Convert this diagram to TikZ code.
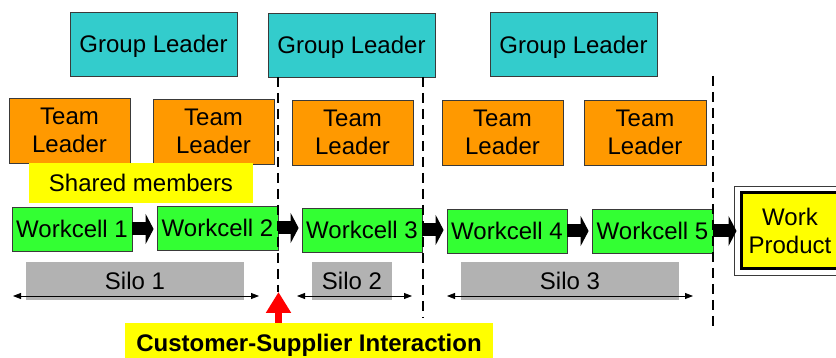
\documentclass[tikz,border=0pt]{standalone}
\usepackage{fontspec}
\setmainfont{Liberation Sans}
\usetikzlibrary{arrows.meta}
\definecolor{glcyan}{HTML}{33CCCC}
\definecolor{tlorange}{HTML}{FF9900}
\definecolor{wcgreen}{HTML}{33FF33}
\definecolor{hiyellow}{HTML}{FFFF00}
\definecolor{silogray}{HTML}{B2B2B2}
\definecolor{boxline}{HTML}{3A3A3A}
\begin{document}
\begin{tikzpicture}[x=1pt,y=-1pt,
  txt/.style={inner sep=0pt, font=\fontsize{24}{28}\selectfont, align=center},
  oneline/.style={text height=17.2pt, text depth=0pt},
  box/.style={txt, draw=boxline, line width=0.8pt},
  grouplead/.style={box, oneline, fill=glcyan, minimum width=167pt, minimum height=64pt},
  teamlead/.style={box, fill=tlorange, minimum width=121pt, minimum height=65pt, text depth=1.5pt},
  workcell/.style={box, oneline, fill=wcgreen, minimum width=120pt, minimum height=44pt},
  silo/.style={txt, oneline, fill=silogray, minimum height=38pt},
  flow/.style={line width=13pt, -{Triangle[length=8pt,width=30pt]}, shorten >=3pt},
  span/.style={line width=0.8pt, {Triangle[length=8pt,width=6pt]}-{Triangle[length=8pt,width=6pt]}},
  cut/.style={line width=2.6pt, dash pattern=on 10pt off 6pt}
]
\clip (0,0) rectangle (836,358);

% group leaders
\node[grouplead] (gl1) at (153.5,44) {Group Leader};
\node[grouplead] (gl2) at (351.5,45) {Group Leader};
\node[grouplead] (gl3) at (573.5,44.5) {Group Leader};

% team leaders
\node[teamlead] (tl1) at (69.5,130.5) {Team\\Leader};
\node[teamlead] (tl2) at (213.5,131.5) {Team\\Leader};
\node[teamlead] (tl3) at (352.5,132.5) {Team\\Leader};
\node[teamlead] (tl4) at (502.5,132.5) {Team\\Leader};
\node[teamlead, minimum width=122pt] (tl5) at (645,132.5) {Team\\Leader};

% shared members band
\node[txt, oneline, fill=hiyellow, minimum width=224pt, minimum height=40pt] (shared) at (141,183) {Shared members};

% workcells
\node[workcell] (wc1) at (72,229) {Workcell 1};
\node[workcell, minimum width=121pt] (wc2) at (217.5,228) {Workcell 2};
\node[workcell] (wc3) at (362,230) {Workcell 3};
\node[workcell] (wc4) at (507,231) {Workcell 4};
\node[workcell, minimum width=121pt] (wc5) at (652.5,231) {Workcell 5};

% work product (double frame)
\node[txt, fill=hiyellow, draw=black, line width=3pt, minimum width=98pt, minimum height=76pt, text depth=1pt] (wp) at (790,231) {Work\\Product};
\draw[boxline, line width=0.8pt] ([shift={(-5pt,5pt)}]wp.north west) rectangle ([shift={(5pt,-5pt)}]wp.south east);

% flow arrows
\draw[flow] (wc1.east) -- (wc1.east -| wc2.west);
\draw[flow] (wc2.east) -- (wc2.east -| wc3.west);
\draw[flow] (wc3.east) -- (wc3.east -| wc4.west);
\draw[flow] (wc4.east) -- (wc4.east -| wc5.west);
\draw[flow] (wc5.east) -- (wc5.east -| wp.west);

% silos
\node[silo, minimum width=218pt] (silo1) at (135,281) {Silo 1};
\node[silo, minimum width=80pt] (silo2) at (352,281) {Silo 2};
\node[silo, minimum width=218pt] (silo3) at (570,281) {Silo 3};
\coordinate (s1a) at (13,296);  \coordinate (s1b) at (259,296);
\coordinate (s2a) at (297,296); \coordinate (s2b) at (412,296);
\coordinate (s3a) at (447,296); \coordinate (s3b) at (693,296);
\draw[span] (s1a) -- (s1b);
\draw[span] (s2a) -- (s2b);
\draw[span] (s3a) -- (s3b);

% customer-supplier interaction
\node[txt, oneline, fill=hiyellow, minimum width=368pt, minimum height=39pt, font=\fontsize{24}{28}\selectfont\bfseries] (csi) at (309,342.5) {Customer-Supplier Interaction};
\coordinate (tip) at (278.5,292);
\draw[red, line width=7pt, -{Triangle[length=21pt,width=24pt]}] (csi.north -| tip) -- (tip);

% dashed boundaries
\coordinate (c1a) at (278,77);  \coordinate (c1b) at (278,292);
\coordinate (c2a) at (423,77);  \coordinate (c2b) at (423,318);
\coordinate (c3a) at (713,76);  \coordinate (c3b) at (713,330);
\draw[cut] (c1a) -- (c1b);
\draw[cut] (c2a) -- (c2b);
\draw[cut] (c3a) -- (c3b);
\end{tikzpicture}
\end{document}
